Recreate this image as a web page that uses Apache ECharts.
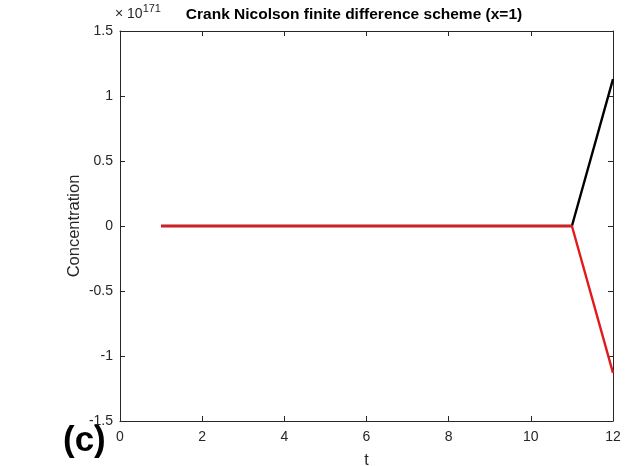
<!DOCTYPE html>
<html><head><meta charset="utf-8">
<script src="https://cdn.jsdelivr.net/npm/echarts@6/dist/echarts.min.js"></script>
<style>html,body{margin:0;padding:0;background:#fff}#c{width:641px;height:466px}</style>
</head><body><div id="c"></div>
<script>
// values in units of 1e171
const tValues = [1,2,3,4,5,6,7,8,9,10,11,12];
const blackSeries = [0,0,0,0,0,0,0,0,0,0,0,1.13];
const redSeries = [0,0,0,0,0,0,0,0,0,0,0,-1.13];
const xTicks = [0,2,4,6,8,10,12];
const yTicks = [-1.5,-1,-0.5,0,0.5,1,1.5];

const FONT = '"Liberation Sans", Arial, Helvetica, sans-serif';
const AX = '#262626';
const chart = echarts.init(document.getElementById('c'));
const pair = (a,b)=>a.map((v,i)=>[v,b[i]]);
const commonX = {type:'value', min:xTicks[0], max:xTicks[xTicks.length-1], interval:2,
  axisLine:{show:true,onZero:false,lineStyle:{color:AX,width:1}},
  axisTick:{show:true,inside:true,length:5,lineStyle:{color:AX}},
  splitLine:{show:false}};
const commonY = {type:'value', min:yTicks[0], max:yTicks[yTicks.length-1], interval:0.5,
  axisLine:{show:true,onZero:false,lineStyle:{color:AX,width:1}},
  axisTick:{show:true,inside:true,length:5,lineStyle:{color:AX}},
  splitLine:{show:false}};
chart.setOption({
  animation:false,
  textStyle:{fontFamily:FONT},
  title:{text:'Crank Nicolson finite difference scheme (x=1)', left:349, textAlign:'center', top:2,
    textStyle:{fontFamily:FONT,fontWeight:'bold',fontSize:15.5,color:'#000'}},
  grid:{left:120, top:31, right:28, bottom:45, outerBoundsMode:'none', containLabel:false},
  xAxis:[
    Object.assign({}, commonX, {position:'bottom', name:'t', nameLocation:'middle', nameGap:32,
      nameMoveOverlap:false,
      nameTextStyle:{fontFamily:FONT,fontSize:16,color:AX},
      axisLabel:{show:true,margin:9,fontFamily:FONT,fontSize:14,color:AX,formatter:v=>String(v)}}),
    Object.assign({}, commonX, {position:'top', axisLabel:{show:false}})
  ],
  yAxis:[
    Object.assign({}, commonY, {position:'left', name:'Concentration', nameLocation:'middle', nameGap:37,
      nameMoveOverlap:false,
      nameTextStyle:{fontFamily:FONT,fontSize:16.5,color:AX},
      axisLabel:{show:true,margin:7,fontFamily:FONT,fontSize:14,color:AX,formatter:v=>String(v)}}),
    Object.assign({}, commonY, {position:'right', axisLabel:{show:false}})
  ],
  graphic:[
    {type:'text', left:115, top:3, style:{
      text:'{a|× 10}{b|171}', font:'14px '+FONT,
      rich:{a:{fontFamily:FONT,fontSize:14,fill:AX,verticalAlign:'bottom'},
            b:{fontFamily:FONT,fontSize:11,fill:AX,verticalAlign:'top',padding:[0,0,7,0]}}}},
    {type:'text', left:63, top:424, style:{text:'(c)', fill:'#000', font:'bold 35px '+FONT}}
  ],
  series:[
    {type:'line', data:pair(tValues,blackSeries), showSymbol:false, symbol:'none',
      lineStyle:{color:'#000',width:2.4}, z:2},
    {type:'line', data:pair(tValues,redSeries), showSymbol:false, symbol:'none',
      lineStyle:{color:'#e31a1c',width:2.4}, z:3}
  ]
});
</script></body></html>
